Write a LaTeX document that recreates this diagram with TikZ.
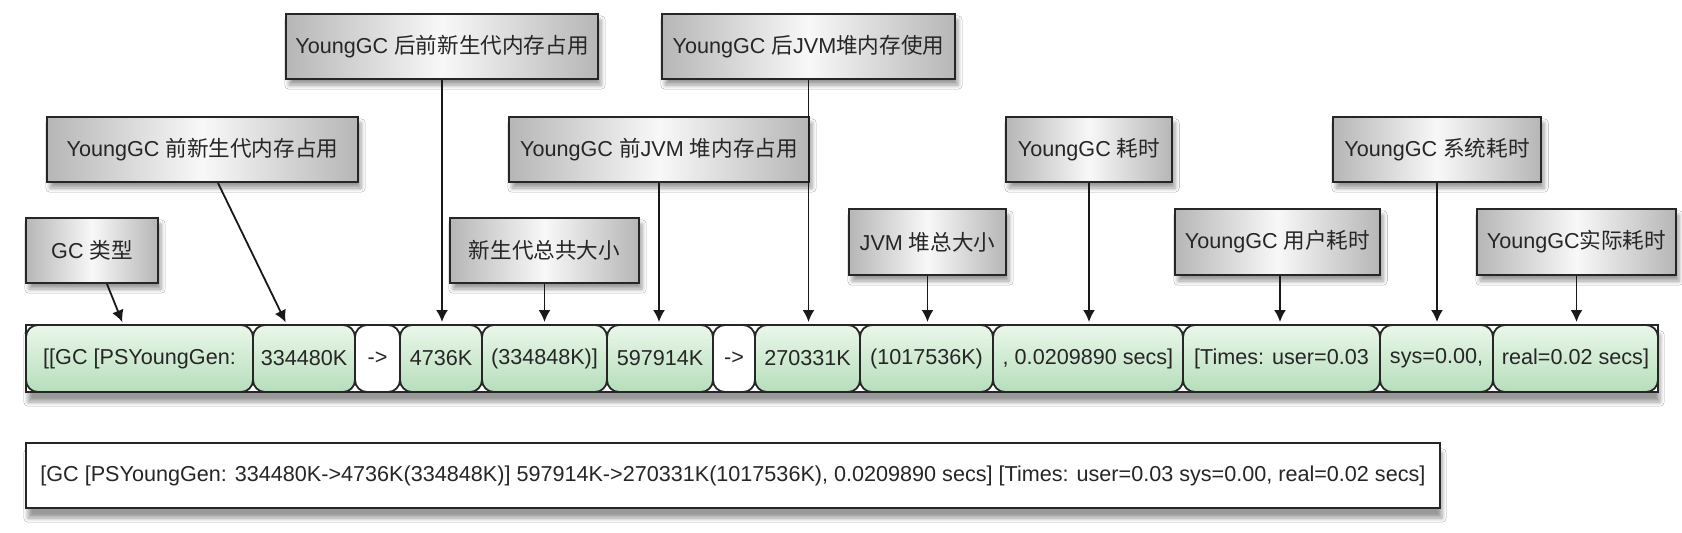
\documentclass[tikz,border=0pt]{standalone}
\usepackage{fontspec}
\setmainfont{Liberation Sans}
\newfontfamily\cjk{Noto Sans CJK SC}
\usepackage{tikz}
\usetikzlibrary{arrows.meta}
\usetikzlibrary{shadows.blur}
\usetikzlibrary{positioning}
\definecolor{tagedge}{RGB}{182,182,182}
\definecolor{tagmid}{RGB}{248,248,248}
\definecolor{celltop}{RGB}{234,247,234}
\definecolor{cellbot}{RGB}{182,222,187}
\newcommand{\gcfont}{\fontsize{10.8}{13}\selectfont}

\begin{document}
\begin{tikzpicture}[
	x=0.5pt, y=-0.5pt,
  > = {Latex[length=6pt,width=6pt]},
  tag/.style = {draw=black!85, line width=1pt, inner sep=0pt, minimum height=32.5pt, font=\gcfont, text=black!85,
    left color=tagedge, right color=tagedge, middle color=tagmid,
    blur shadow={shadow xshift=1.5pt, shadow yshift=-3pt}},
  cell/.style = {draw=black!85, line width=0.9pt, rounded corners=6pt, inner sep=0pt, outer sep=0pt,
    minimum height=33.5pt, font=\gcfont, text=black!85, top color=celltop, bottom color=cellbot},
  bare cell/.style = {cell, top color=white, bottom color=white},
  pointer/.style = {->, line width=0.9pt, draw=black!90, shorten >=1.5pt}
  ]
	\fill[white] (0,0) rectangle (1682,532);
	\useasboundingbox (0,0) rectangle (1682,532);

	\node[tag, minimum width=66pt] (gctype) at (92,250.5) {GC {\cjk 类型}};
	\node[tag, minimum width=155.5pt] (youngbefore) at (202.5,149.5) {YoungGC {\cjk 前新生代内存占用}};
	\node[tag, minimum width=156pt] (youngafter) at (442,46.5) {YoungGC {\cjk 后前新生代内存占用}};
	\node[tag, minimum width=94.5pt] (youngtotal) at (544.5,250.5) {\cjk 新生代总共大小};
	\node[tag, minimum width=150pt] (heapbefore) at (659,149.5) {YoungGC {\cjk 前}JVM {\cjk 堆内存占用}};
	\node[tag, minimum width=146.5pt] (heapafter) at (808.5,46.5) {YoungGC {\cjk 后}JVM{\cjk 堆内存使用}};
	\node[tag, minimum width=78.5pt, minimum height=33pt] (heaptotal) at (927.5,242) {JVM {\cjk 堆总大小}};
	\node[tag, minimum width=83pt] (gctime) at (1089,149.5) {YoungGC {\cjk 耗时}};
	\node[tag, minimum width=102.5pt, minimum height=33pt] (usertime) at (1277.5,242) {YoungGC {\cjk 用户耗时}};
	\node[tag, minimum width=104pt] (systime) at (1437,149.5) {YoungGC {\cjk 系统耗时}};
	\node[tag, minimum width=99.5pt, minimum height=33pt] (realtime) at (1576.5,242) {YoungGC{\cjk 实际耗时}};

	\filldraw[draw=black!85, fill=white, line width=0.9pt, blur shadow={shadow xshift=1pt, shadow yshift=-5pt}]
		(26,325) rectangle (1658,392);

	\node[cell, minimum width=113.5pt] (c1) at (139.5,358.5) {[[GC [PSYoungGen:};
	\node[cell, minimum width=51pt] (c2) at (304,358.5) {334480K};
	\node[bare cell, minimum width=22.5pt] (c3) at (377.5,358.5) {->};
	\node[cell, minimum width=41pt] (c4) at (441,358.5) {4736K};
	\node[cell, minimum width=62.5pt] (c5) at (544.5,358.5) {(334848K)]};
	\node[cell, minimum width=53pt] (c6) at (660,358.5) {597914K};
	\node[bare cell, minimum width=21pt] (c7) at (734,358.5) {->};
	\node[cell, minimum width=52.5pt] (c8) at (807.5,358.5) {270331K};
	\node[cell, minimum width=66.5pt] (c9) at (926.5,358.5) {(1017536K)};
	\node[cell, minimum width=95pt] (c10) at (1088,358.5) {, 0.0209890 secs]};
	\node[cell, minimum width=98.5pt] (c11) at (1281.5,358.5) {[Times: user=0.03};
	\node[cell, minimum width=56.5pt] (c12) at (1436.5,358.5) {sys=0.00,};
	\node[cell, minimum width=82.5pt] (c13) at (1575.5,358.5) {real=0.02 secs]};

	\draw[pointer] ([xshift=7.5pt]gctype.south) -- ([xshift=-8pt]c1.north);
	\draw[pointer] ([xshift=7.75pt]youngbefore.south) -- ([xshift=-8.5pt]c2.north);
	\draw[pointer] (youngafter.south) -- (youngafter.south |- c4.north);
	\draw[pointer] (youngtotal.south) -- (youngtotal.south |- c5.north);
	\draw[pointer] (heapbefore.south) -- (heapbefore.south |- c6.north);
	\draw[pointer] (heapafter.south) -- (heapafter.south |- c8.north);
	\draw[pointer] (heaptotal.south) -- (heaptotal.south |- c9.north);
	\draw[pointer] (gctime.south) -- (gctime.south |- c10.north);
	\draw[pointer] ([xshift=1.25pt]usertime.south) -- ([xshift=1.25pt]usertime.south |- c11.north);
	\draw[pointer] (systime.south) -- (systime.south |- c12.north);
	\draw[pointer] (realtime.south) -- (realtime.south |- c13.north);

	\node[draw=black!85, line width=1pt, fill=white, inner sep=0pt, minimum width=707pt, minimum height=32.5pt,
		font=\gcfont, text=black!85, blur shadow={shadow xshift=1pt, shadow yshift=-5pt}] (gcline) at (733,475.5)
		{[GC [PSYoungGen: 334480K->4736K(334848K)] 597914K->270331K(1017536K), 0.0209890 secs] [Times: user=0.03 sys=0.00, real=0.02 secs]};

\end{tikzpicture}
\end{document}
